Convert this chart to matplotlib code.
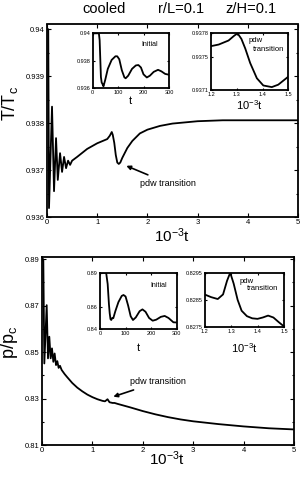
import matplotlib
matplotlib.use('Agg')
import matplotlib.pyplot as plt
from matplotlib.ticker import MultipleLocator

plt.rcParams['font.family'] = ['Liberation Sans', 'DejaVu Sans']
plt.rcParams['mathtext.fontset'] = 'custom'
plt.rcParams['mathtext.rm'] = 'Liberation Sans'
plt.rcParams['mathtext.it'] = 'Liberation Sans'

# temperature, main panel (10^-3 t, T/Tc)
t_main_T = [0.0, 0.025, 0.04, 0.1, 0.14, 0.18, 0.215, 0.26, 0.30, 0.34, 0.38, 0.42, 0.46,
            0.50, 0.6, 0.8, 1.0, 1.2, 1.25, 1.29, 1.31, 1.34, 1.37, 1.40, 1.43, 1.46, 1.50,
            1.6, 1.7, 1.85, 2.0, 2.25, 2.5, 3.0, 3.5, 4.0, 5.0]
T_main = [0.9400, 0.9400, 0.93619, 0.93835, 0.93655, 0.93768, 0.93679, 0.93736, 0.93696,
          0.93728, 0.93704, 0.93720, 0.93711, 0.93720, 0.93728, 0.93745, 0.93757, 0.93766,
          0.93773, 0.93781, 0.93775, 0.93758, 0.93732, 0.93716, 0.93713, 0.93716, 0.93726,
          0.93747, 0.93762, 0.93778, 0.93786, 0.93794, 0.93799, 0.93804, 0.93806, 0.93806,
          0.93806]

# temperature, initial stage (t)
t_init_T = [0, 25, 28, 33, 36, 39, 43, 50, 60, 75, 90, 97, 105, 115, 125, 130, 140, 155,
            170, 180, 190, 200, 213, 225, 240, 257, 270, 285, 300]
T_init = [0.9400, 0.9400, 0.9395, 0.9368, 0.9364, 0.9363, 0.93612, 0.9366, 0.9374, 0.93805,
          0.93832, 0.93832, 0.9381, 0.9373, 0.93678, 0.93671, 0.9369, 0.9374, 0.93765,
          0.93768, 0.9375, 0.9370, 0.93677, 0.9369, 0.93718, 0.93733, 0.93722, 0.93703,
          0.93697]

# temperature, pdw transition (10^-3 t)
t_pdw_T = [1.2, 1.23, 1.268, 1.29, 1.303, 1.318, 1.333, 1.352, 1.378, 1.403, 1.436, 1.461, 1.5]
T_pdw = [0.93764, 0.93766, 0.93771, 0.93777, 0.93780, 0.93773, 0.93761, 0.93743, 0.93724,
         0.93715, 0.93713, 0.93716, 0.93726]

# pressure, main panel (10^-3 t, p/pc)
t_main_p = [0.0, 0.026, 0.046, 0.093, 0.119, 0.145, 0.172, 0.198, 0.225, 0.251, 0.278, 0.304,
            0.33, 0.357, 0.39, 0.45, 0.5, 0.6, 0.7, 0.8, 0.9, 1.0, 1.1, 1.2, 1.25, 1.3, 1.34,
            1.4, 1.44, 1.5, 1.75, 2.0, 2.25, 2.5, 2.75, 3.0, 3.5, 4.0, 4.5, 5.0]
p_main = [0.890, 0.890, 0.8451, 0.8702, 0.8473, 0.8566, 0.8473, 0.8516, 0.8458, 0.8494,
          0.8444, 0.8461, 0.8432, 0.8441, 0.8423, 0.8405, 0.8392, 0.8367, 0.8347, 0.8331,
          0.8317, 0.8306, 0.8297, 0.8290, 0.8288, 0.8297, 0.8284, 0.8281, 0.8281, 0.8277,
          0.8262, 0.8246, 0.8232, 0.8220, 0.8210, 0.8202, 0.8190, 0.8180, 0.8172, 0.8167]

# pressure, initial stage (t)
t_init_p = [0, 24, 30, 35, 38, 41, 44, 48, 52, 60, 72, 85, 92, 100, 110, 120, 129, 140, 155,
            166, 178, 192, 206, 220, 238, 253, 268, 287, 300]
p_init = [0.890, 0.890, 0.880, 0.862, 0.8541, 0.8490, 0.8482, 0.8500, 0.8498, 0.8560,
          0.8640, 0.8695, 0.8703, 0.8690, 0.8610, 0.8515, 0.8482, 0.8505, 0.8560, 0.8576,
          0.8555, 0.8500, 0.8476, 0.8485, 0.8510, 0.8518, 0.8500, 0.8462, 0.8460]

# pressure, pdw transition (10^-3 t)
t_pdw_p = [1.2, 1.225, 1.25, 1.27, 1.285, 1.297, 1.31, 1.325, 1.34, 1.36, 1.38, 1.40, 1.42,
           1.44, 1.46, 1.48, 1.50]
p_pdw = [0.82870, 0.82860, 0.82853, 0.82870, 0.82920, 0.82950, 0.82910, 0.82850, 0.82810,
         0.82790, 0.82782, 0.82780, 0.82785, 0.82792, 0.82785, 0.82768, 0.82752]

W, H = 301, 482
fig = plt.figure(figsize=(W / 100, H / 100), dpi=100)


def box(l, t, r, b):
    return [l / W, 1 - b / H, (r - l) / W, (b - t) / H]


def style(ax, fs, lw=1.3, ln=3):
    for s in ax.spines.values():
        s.set_linewidth(lw)
    ax.tick_params(which='both', direction='in', top=True, right=True,
                   labelsize=fs, pad=1.5, width=0.8)
    ax.tick_params(which='major', length=ln)
    ax.tick_params(which='minor', length=ln * 0.6)


xlab = r'$\mathregular{10^{-3}t}$'

# ---- top panel
ax1 = fig.add_axes(box(47, 24.5, 298, 217))
ax1.plot(t_main_T, T_main, color='k', lw=1.3)
ax1.set_xlim(0, 5)
ax1.set_ylim(0.936, 0.9401)
ax1.set_yticks([0.936, 0.937, 0.938, 0.939, 0.94])
ax1.set_yticklabels(['0.936', '0.937', '0.938', '0.939', '0.94'])
ax1.yaxis.set_minor_locator(MultipleLocator(0.0005))
ax1.set_xticks([0, 1, 2, 3, 4, 5])
style(ax1, 5.5)
ax1.set_xlabel(xlab, fontsize=11)
ax1.xaxis.set_label_coords((172 - 47) / 251, -(226 - 217) / 192.5, transform=ax1.transAxes)
ax1.set_ylabel(r'T/T$_\mathregular{c}$', fontsize=13)
ax1.yaxis.set_label_coords(-(47 - 20) / 251, (217 - 103) / 192.5, transform=ax1.transAxes)
ax1.annotate('pdw transition', xy=(1.58, 0.93709), xytext=(1.85, 0.93672),
             fontsize=6.5, va='center',
             arrowprops=dict(arrowstyle='-|>', color='k', lw=1.2, mutation_scale=6,
                             shrinkA=2, shrinkB=0))

in1 = fig.add_axes(box(92.5, 33.3, 169, 88))
in1.plot(t_init_T, T_init, color='k', lw=1.3)
in1.set_xlim(0, 300)
in1.set_ylim(0.936, 0.940)
in1.set_xticks([0, 100, 200, 300])
in1.set_yticks([0.936, 0.938, 0.94])
in1.set_yticklabels(['0.936', '0.938', '0.94'])
style(in1, 4, ln=1.5)
in1.set_xlabel('t', fontsize=8, labelpad=1)
in1.text(0.75, 0.8, 'Initial', transform=in1.transAxes, fontsize=5, ha='center', va='center')

in2 = fig.add_axes(box(211, 33.3, 288.3, 89.5))
in2.plot(t_pdw_T, T_pdw, color='k', lw=1.3)
in2.set_xlim(1.2, 1.5)
in2.set_ylim(0.9371, 0.9378)
in2.set_xticks([1.2, 1.3, 1.4, 1.5])
in2.set_yticks([0.9371, 0.9375, 0.9378])
in2.set_yticklabels(['0.9371', '0.9375', '0.9378'])
style(in2, 4, ln=1.5)
in2.set_xlabel(xlab, fontsize=8, labelpad=1.5)
in2.text(0.49, 0.87, 'pdw', transform=in2.transAxes, fontsize=5.5, va='center')
in2.text(0.54, 0.72, 'transition', transform=in2.transAxes, fontsize=5.5, va='center')

# ---- bottom panel
ax2 = fig.add_axes(box(42, 257.3, 294, 445))
ax2.plot(t_main_p, p_main, color='k', lw=1.3)
ax2.set_xlim(0, 5)
ax2.set_ylim(0.81, 0.8908)
ax2.set_yticks([0.81, 0.83, 0.85, 0.87, 0.89])
ax2.yaxis.set_minor_locator(MultipleLocator(0.01))
ax2.set_xticks([0, 1, 2, 3, 4, 5])
style(ax2, 5.5)
ax2.set_xlabel(xlab, fontsize=11)
ax2.xaxis.set_label_coords((167 - 42) / 252, -(449 - 445) / 187.7, transform=ax2.transAxes)
ax2.set_ylabel(r'p/p$_\mathregular{c}$', fontsize=13)
ax2.yaxis.set_label_coords(-(42 - 20) / 252, (445 - 342) / 187.7, transform=ax2.transAxes)
ax2.annotate('pdw transition', xy=(1.415, 0.8308), xytext=(1.75, 0.8372),
             fontsize=6.5, va='center',
             arrowprops=dict(arrowstyle='-|>', color='k', lw=1.2, mutation_scale=6,
                             shrinkA=2, shrinkB=0))

in3 = fig.add_axes(box(100, 272.7, 176.7, 329.3))
in3.plot(t_init_p, p_init, color='k', lw=1.3)
in3.set_xlim(0, 300)
in3.set_ylim(0.84, 0.89)
in3.set_xticks([0, 100, 200, 300])
in3.set_yticks([0.84, 0.86, 0.89])
in3.set_yticklabels(['0.84', '0.86', '0.89'])
style(in3, 4, ln=1.5)
in3.set_xlabel('t', fontsize=8, labelpad=5)
in3.text(0.77, 0.78, 'Initial', transform=in3.transAxes, fontsize=5, ha='center', va='center')

in4 = fig.add_axes(box(204.5, 272.7, 284, 327))
in4.plot(t_pdw_p, p_pdw, color='k', lw=1.3)
in4.set_xlim(1.2, 1.5)
in4.set_ylim(0.8275, 0.8295)
in4.set_xticks([1.2, 1.3, 1.4, 1.5])
in4.set_yticks([0.8275, 0.8285, 0.8295])
in4.set_yticklabels(['0.8275', '0.8285', '0.8295'])
style(in4, 4, ln=1.5)
in4.set_xlabel(xlab, fontsize=8, labelpad=5)
in4.text(0.44, 0.84, 'pdw', transform=in4.transAxes, fontsize=5.5, va='center')
in4.text(0.53, 0.70, 'transition', transform=in4.transAxes, fontsize=5.5, va='center')

# ---- header
fig.text(104 / W, 1 - 9 / H, 'cooled', fontsize=10.5, ha='center', va='center')
fig.text(181.5 / W, 1 - 9 / H, 'r/L=0.1', fontsize=10.5, ha='center', va='center')
fig.text(251 / W, 1 - 9 / H, 'z/H=0.1', fontsize=10.5, ha='center', va='center')

fig.savefig('out.png', dpi=100)
